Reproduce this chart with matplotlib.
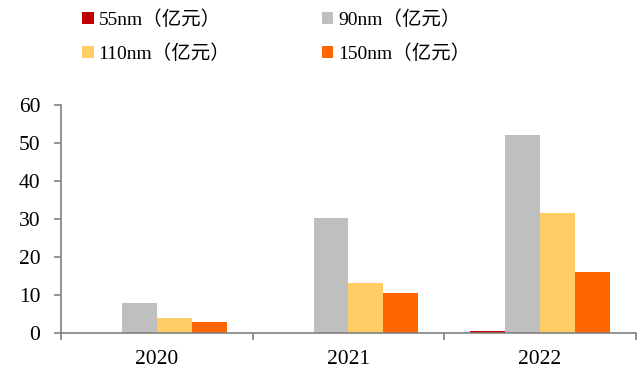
import matplotlib.pyplot as plt
import numpy as np

plt.rcParams['font.family'] = ['Liberation Serif', 'Noto Sans CJK SC']

years = ['2020', '2021', '2022']
labels = ['55nm（亿元）', '90nm（亿元）', '110nm（亿元）', '150nm（亿元）']
v55 = [0, 0, 0.4]
v90 = [7.9, 30.3, 52.1]
v110 = [3.9, 13.2, 31.7]
v150 = [2.9, 10.6, 16.1]
colors = ['#C00000', '#BFBFBF', '#FFCC66', '#FF6600']

fig = plt.figure(figsize=(6.44, 3.69), dpi=100)
ax = fig.add_axes([0.095, 0.098, 0.892, 0.617])

x = np.arange(len(years))
w = 0.182
series = [v55, v90, v110, v150]
bars = []
for i, (vals, c, lab) in enumerate(zip(series, colors, labels)):
    bars.append(ax.bar(x + (i - 1.5) * w, vals, w, color=c, label=lab, linewidth=0))

ax.set_xlim(-0.5, 2.5)
ax.set_ylim(0, 60)
ax.set_yticks(range(0, 61, 10))
ax.set_xticks(x)
ax.set_xticklabels(years)
ax.set_xticks([-0.5, 0.5, 1.5, 2.5], minor=True)
ax.tick_params(axis='x', which='major', length=0, labelsize=15.5, pad=12)
ax.tick_params(axis='x', which='minor', length=5, color='#808080', width=1.2)
ax.tick_params(axis='y', length=5, color='#808080', width=1.2, labelsize=15.5, pad=10)
for s in ['top', 'right']:
    ax.spines[s].set_visible(False)
for s in ['left', 'bottom']:
    ax.spines[s].set_color('#808080')
    ax.spines[s].set_linewidth(1.2)

# row-wise legend order: 55 / 90 on top, 110 / 150 below
order = [0, 2, 1, 3]
fig.legend([bars[i] for i in order], [labels[i] for i in order],
           loc='upper left', bbox_to_anchor=(0.1, 1.02), ncol=2, frameon=False,
           fontsize=14, handlelength=0.6, handleheight=0.6, handletextpad=0.25,
           columnspacing=4.7, labelspacing=0.8)

fig.savefig('out.png', dpi=100)
